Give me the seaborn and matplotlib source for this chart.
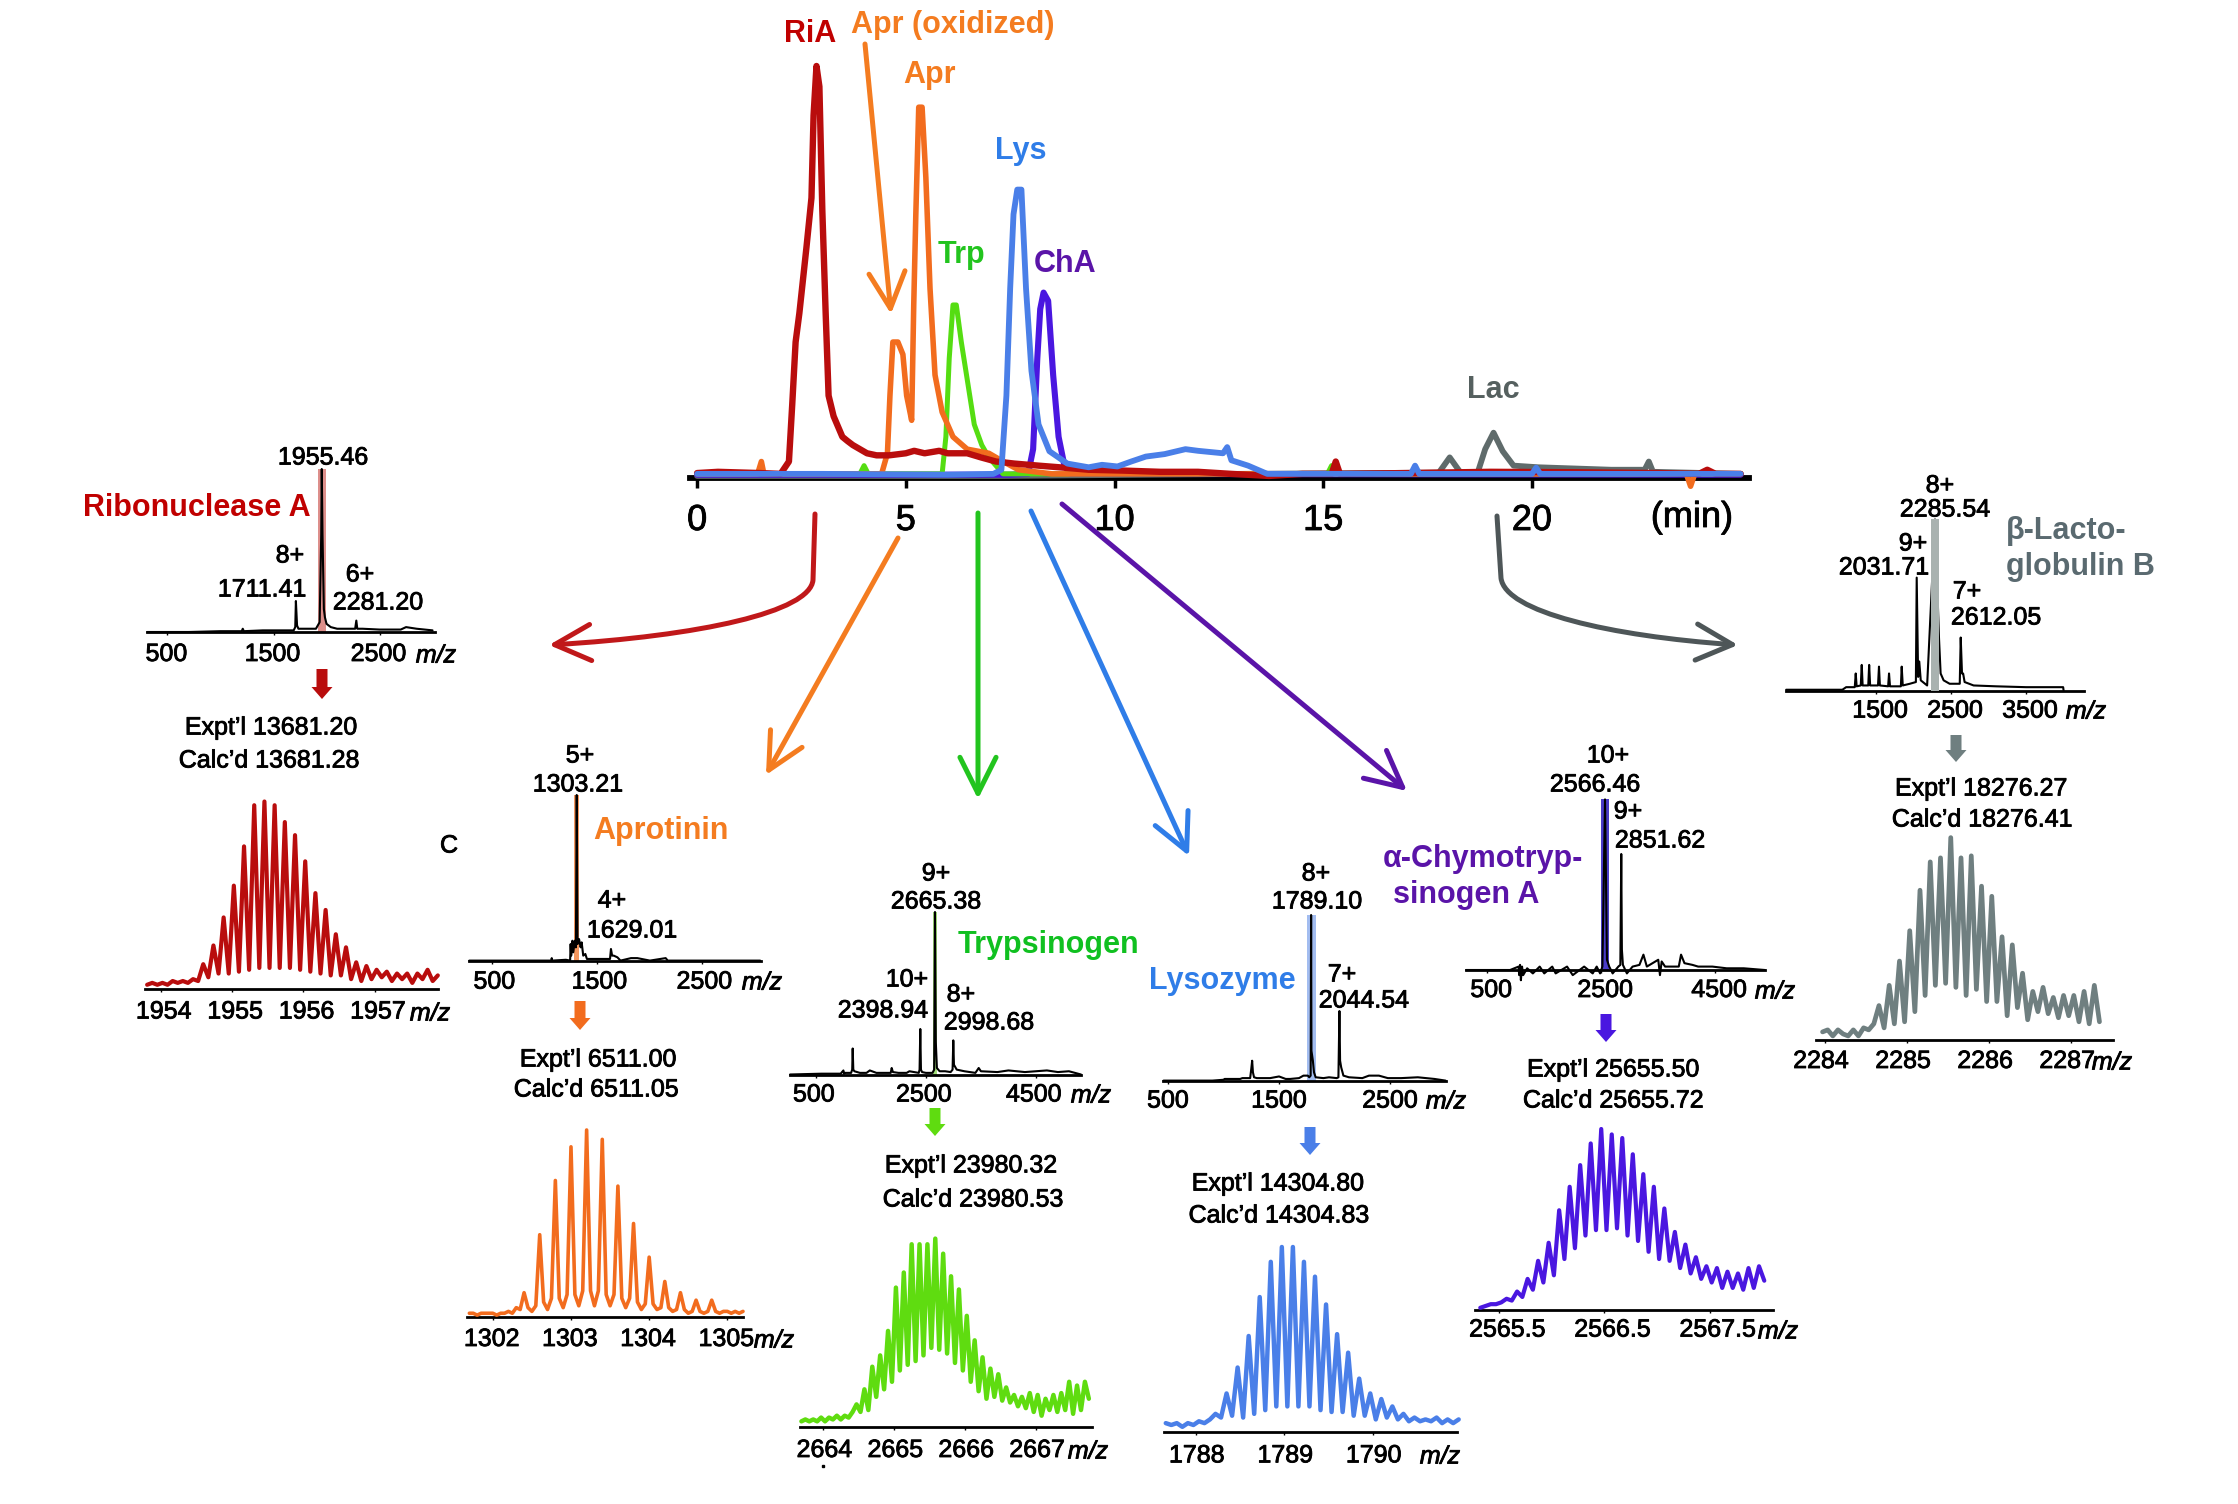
import numpy as np
import matplotlib
matplotlib.use('Agg')
import matplotlib.pyplot as plt
import matplotlib.patheffects as pe
import matplotlib.transforms as mtrans
from matplotlib.patches import FancyArrowPatch
from matplotlib.path import Path
import seaborn as sns

# chromatogram traces (time in min, relative intensity)
ria_t = [0, 0.5, 1.5, 2.0, 2.2, 2.28, 2.36, 2.45, 2.62, 2.74, 2.79, 2.86, 2.93, 3.0, 3.08, 3.15, 3.27, 3.48, 3.6, 3.73, 3.9, 4.07, 4.3, 4.6, 5.0, 5.2, 5.45, 5.8, 6.0, 6.47, 6.8, 7.16, 7.6, 8.18, 8.8, 9.38, 10.2, 11.1, 12.0, 12.8, 13.7, 14.5, 15.2, 15.3, 15.4, 17.0, 19.0, 21.0, 23.0, 24.0, 24.2, 24.4, 25.0]
ria_i = [1.2, 1.5, 1.2, 1, 4, 18, 33, 40, 56, 68, 88, 100, 95, 65, 40, 20, 15, 10, 9, 8, 7, 6, 5.5, 5.5, 6, 6.6, 6, 6.6, 6, 6, 5, 4, 3.5, 3, 2.5, 2, 1.8, 1.5, 1.5, 1, 0.5, 1, 1, 4, 1, 1.2, 1.5, 1.4, 1.2, 1, 2, 1, 1]
apr_t = [0, 1.45, 1.54, 1.6, 4.2, 4.42, 4.56, 4.62, 4.69, 4.81, 4.93, 5.02, 5.14, 5.19, 5.24, 5.31, 5.39, 5.48, 5.58, 5.7, 5.87, 6.13, 6.47, 6.99, 7.33, 7.7, 8.5, 10, 23.7, 23.8, 23.9, 25]
apr_i = [1, 1, 4, 1, 1, 1, 6, 20, 33, 33, 30, 20, 14, 42, 64, 90, 90, 73, 46, 25, 16, 10, 7, 6, 4, 2, 1, 1, 1, -2, 1, 1]
trp_t = [0, 3.9, 4.0, 4.1, 5.7, 5.87, 5.96, 6.04, 6.13, 6.21, 6.33, 6.47, 6.64, 6.82, 6.99, 7.33, 8.0, 15.1, 15.2, 15.3, 25]
trp_i = [1, 1, 3, 1, 1, 1, 10, 29, 42, 42, 33, 24, 13, 8, 5, 1, 1, 1, 3, 1, 1]
lys_t = [0, 3.0, 6.0, 7.1, 7.29, 7.41, 7.5, 7.58, 7.67, 7.77, 7.88, 8.01, 8.18, 8.44, 8.87, 9.38, 9.7, 10.07, 10.4, 10.75, 11.2, 11.7, 12.0, 12.3, 12.6, 12.7, 12.8, 13.2, 13.66, 14.5, 17.1, 17.2, 17.3, 20.0, 20.1, 20.2, 25]
lys_i = [1, 1, 0.8, 1, 2, 20, 46, 64, 70, 70, 46, 26, 13, 6.5, 3.5, 2.6, 3.2, 2.8, 4, 5.2, 5.8, 7, 6.6, 6.3, 6, 7.5, 4.3, 3, 1, 1, 1, 3, 1, 1, 2.5, 1, 1]
cha_t = [0, 7.5, 7.93, 8.05, 8.15, 8.22, 8.3, 8.41, 8.53, 8.66, 8.8, 8.95, 25]
cha_i = [0.8, 0.8, 1, 7, 29, 41, 45, 43, 25, 10, 3, 1, 0.8]
lac_t = [0, 7.3, 13, 17.77, 18.03, 18.29, 18.7, 18.88, 19.08, 19.3, 19.56, 20.15, 21.9, 22.7, 22.8, 22.9, 25]
lac_i = [0.5, 0.5, 1, 1.3, 5, 1.3, 1.3, 7, 11, 6.5, 3, 2.6, 2, 2, 4, 1.5, 1]
time_ticks = [0, 5, 10, 15, 20]

# survey spectra (m/z, relative intensity)
ria_ms_x = [310, 700, 1000, 1200, 1210, 1220, 1400, 1690, 1705, 1711, 1722, 1735, 1800, 1900, 1935, 1950, 1955, 1962, 1975, 1985, 2000, 2040, 2100, 2200, 2270, 2281, 2290, 2340, 2500, 2700, 2750, 2850, 3000]
ria_ms_y = [0, 0, 0.5, 0.5, 2, 0.5, 1, 1, 3, 19, 4, 2, 2, 2, 6, 60, 100, 60, 14, 9, 5, 3, 2, 2, 2, 7, 2, 2, 1.5, 1.5, 3, 2, 1]
apr_ms_x = [280, 900, 1060, 1065, 1070, 1200, 1240, 1245, 1250, 1262, 1270, 1285, 1295, 1303, 1311, 1325, 1340, 1350, 1365, 1385, 1400, 1620, 1629, 1640, 1655, 1690, 1720, 1820, 1850, 1880, 2000, 2150, 2170, 2400, 3050]
apr_ms_y = [0, 0, 0, 1.5, 0, 0.5, 0, 10, 3, 12, 5, 12, 8, 100, 10, 13, 8, 11, 3, 4, 1, 1, 7, 3, 3, 2, 0, 1.5, 1.5, 1.5, 0, 1.5, 0, 0, 0]
trp_ms_x = [30, 600, 950, 1000, 1010, 1020, 1140, 1160, 1169, 1180, 1200, 1300, 1420, 1480, 1600, 1700, 1860, 1878, 1900, 2000, 2150, 2200, 2370, 2385, 2398, 2410, 2430, 2500, 2620, 2650, 2665, 2680, 2700, 2750, 2850, 2950, 2985, 2998, 3010, 3060, 3200, 3400, 3460, 3500, 3800, 4000, 4300, 4700, 4900, 5100, 5210, 5320]
trp_ms_y = [0, 0.5, 0.5, 2.5, 0.5, 1, 1, 3, 16, 3, 2, 1, 1, 2.5, 1, 1, 1, 4, 1.5, 1, 1, 2, 1, 3, 28, 3, 1.5, 1, 1, 3, 100, 20, 4, 2, 2, 1.5, 3, 21, 6, 3, 2, 1, 4, 2, 1.5, 2.5, 1.5, 2.5, 1.5, 2, 1, 0]
lys_ms_x = [460, 900, 1000, 1010, 1150, 1170, 1240, 1250, 1258, 1265, 1275, 1300, 1420, 1500, 1560, 1600, 1680, 1720, 1760, 1772, 1785, 1789, 1792, 1805, 1815, 1830, 1900, 1950, 2020, 2035, 2044, 2050, 2060, 2080, 2130, 2250, 2310, 2400, 2480, 2600, 2750, 2900, 3000]
lys_ms_y = [0, 0, 0.5, 1, 1, 1.5, 1.5, 7, 12, 5, 2, 1.5, 1.5, 2.5, 1, 1, 1.5, 3, 3, 2, 3, 100, 18, 12, 5, 2, 1.5, 2, 1.5, 2, 42, 12, 8, 3, 2, 1.5, 3, 3, 1.5, 1.5, 2, 1, 0]
cha_ms_x = [130, 500, 900, 1050, 1060, 1075, 1090, 1110, 1130, 1200, 1300, 1420, 1500, 1640, 1700, 1900, 2000, 2200, 2350, 2420, 2480, 2520, 2566, 2600, 2640, 2700, 2800, 2835, 2851, 2862, 2880, 2950, 3050, 3170, 3240, 3300, 3500, 3530, 3560, 3620, 3860, 3900, 3960, 4100, 4200, 4450, 4700, 5000, 5370]
cha_ms_y = [0, 0, 0, 2, -3, 3, -6, 2, -3, 1, -2, 2, -2, 2, -2, 2, -3, 2, -2, 2, -2, 2, 100, 6, 2, -2, 2, 3, 68, 12, 3, -2, 2, 3, 9, 2, 6, -3, 5, 2, 2, 9, 4, 3, 2, 2, 1, 1, 0]
lac_ms_x = [300, 700, 1050, 1100, 1215, 1228, 1240, 1295, 1308, 1320, 1395, 1407, 1420, 1525, 1538, 1550, 1660, 1672, 1685, 1830, 1841, 1855, 1950, 2030, 2041, 2060, 2075, 2095, 2180, 2285, 2338, 2360, 2400, 2480, 2615, 2628, 2645, 2660, 2680, 2800, 3100, 3500, 3994, 4000]
lac_ms_y = [0.5, 0.5, 0.5, 2, 2, 10, 2.5, 3, 15, 3, 3, 15, 3, 3, 14, 3, 2.5, 10, 2.5, 2.5, 14, 3, 4, 5, 66, 8, 17, 6, 3, 100, 31, 10, 6, 4, 4, 31, 10, 10, 5, 3, 2.5, 2, 2, 0]

# isotope envelopes (intensities at even m/z steps)
ria_iso = [2, 3, 2, 3, 2, 4, 3, 4, 3, 5, 4, 13, 6, 23, 8, 38, 8, 55, 9, 76, 10, 98, 11, 100, 11, 98, 11, 89, 11, 82, 10, 68, 9, 51, 8, 42, 7, 29, 7, 22, 5, 14, 4, 12, 5, 10, 6, 9, 4, 8, 5, 8, 3, 8, 5, 10, 4, 7]
apr_iso = [2, 2, 1, 2, 2, 2, 2, 1, 2, 2, 3, 2, 5, 4, 13, 5, 3, 6, 44, 8, 4, 10, 73, 10, 5, 12, 91, 12, 6, 14, 100, 14, 6, 14, 95, 12, 6, 12, 70, 10, 5, 10, 50, 8, 4, 7, 32, 7, 4, 5, 19, 5, 3, 4, 13, 4, 2, 3, 9, 3, 2, 3, 9, 3, 2, 3, 3, 2, 3, 2, 3]
trp_iso = [3, 4, 3, 4, 3, 5, 3, 5, 4, 6, 4, 6, 5, 8, 12, 8, 20, 9, 32, 16, 38, 20, 51, 24, 74, 30, 82, 33, 97, 35, 97, 38, 97, 42, 100, 41, 92, 39, 80, 34, 73, 30, 59, 24, 46, 19, 37, 15, 31, 16, 28, 14, 21, 13, 17, 11, 16, 10, 18, 8, 17, 6, 15, 9, 17, 8, 18, 9, 24, 7, 22, 9, 24, 15]
lys_iso = [5, 4, 5, 3, 5, 4, 6, 5, 7, 10, 8, 21, 9, 35, 8, 52, 10, 73, 12, 92, 14, 100, 14, 100, 14, 92, 14, 84, 12, 69, 11, 53, 11, 43, 9, 29, 9, 21, 7, 18, 8, 14, 7, 10, 6, 8, 6, 7, 6, 8, 5, 7, 5, 7]
cha_iso = [1, 2, 3, 3, 4, 6, 5, 10, 7, 17, 11, 27, 15, 37, 19, 55, 28, 68, 34, 80, 41, 92, 44, 100, 44, 97, 45, 95, 41, 86, 38, 75, 32, 68, 28, 56, 27, 43, 23, 36, 20, 29, 17, 24, 15, 23, 12, 21, 12, 20, 11, 23, 12, 24, 16]
lac_iso = [4, 5, 2, 5, 3, 2, 5, 2, 6, 5, 8, 17, 6, 27, 8, 39, 9, 54, 14, 74, 22, 88, 27, 90, 28, 100, 26, 90, 22, 91, 25, 76, 19, 71, 19, 51, 12, 47, 16, 33, 10, 24, 14, 26, 13, 21, 11, 22, 12, 22, 9, 24, 8, 27, 9]

# colours
red, orange, green, blue, purple, grey = '#b90d0d', '#f26c1e', '#5fdc10', '#4a7fe8', '#4a17e0', '#6f7f80'

W, H = 2238, 1504
sns.set_theme(style='white')
plt.rcParams['font.family'] = ['Liberation Sans', 'DejaVu Sans']
FS = 18
fig = plt.figure(figsize=(W / 100, H / 100), dpi=100, facecolor='white')
heavy = [pe.withStroke(linewidth=0.6, foreground='black')]


def panel(left, right, base, top, xlim, ticks, label_dx=0, label_off=21, spine_w=2):
    # axes placed by its pixel box, the x limits come from the reference scale
    ax = fig.add_axes([left / W, 1 - base / H, (right - left) / W, (base - top) / H])
    ax.patch.set_alpha(0)
    ax.set_xlim(xlim)
    ax.set_ylim(0, 100)
    ax.set_yticks([])
    ax.set_xticks(ticks)
    ax.set_xticklabels([str(t) for t in ticks], fontsize=FS, color='black')
    ax.tick_params(axis='x', length=2, width=1, color='black', pad=(label_off - 12) * 0.72 - 2, bottom=True)
    sns.despine(ax=ax, left=True)
    ax.spines['bottom'].set_linewidth(spine_w)
    ax.spines['bottom'].set_color('black')
    shift = mtrans.ScaledTranslation(label_dx / 100, 0, fig.dpi_scale_trans)
    for lab in ax.get_xticklabels():
        lab.set_transform(lab.get_transform() + shift)
        lab.set_path_effects(heavy)
    ax.set_xlabel('')
    ax.set_ylabel('')
    return ax


def draw_line(ax, x, y, color, lw):
    sns.lineplot(x=x, y=y, ax=ax, color=color, linewidth=lw, estimator=None, sort=False,
                 errorbar=None, legend=False, zorder=3, clip_on=False)


def survey(box, x, y, peak, half, bar_color, bar_z=1, **kw):
    ax = panel(*box, **kw)
    ax.axvspan(peak - half, peak + half, color=bar_color, lw=0, zorder=bar_z)
    draw_line(ax, x, y, 'black', 1.5)
    return ax


def envelope(box, start, step, y, color, lw=3.0, **kw):
    ax = panel(*box, **kw)
    x = start + step * np.arange(len(y))
    draw_line(ax, x, y, color, lw)
    return ax


# chromatogram
chrom = panel(690, 1749, 478, 66, (-0.17, 25.2), time_ticks, spine_w=4.2)
chrom.tick_params(axis='x', length=7, width=2.5, pad=11, labelsize=26)
for t, y, c, lw in [(lac_t, lac_i, '#5f6b6b', 4.2), (cha_t, cha_i, '#4a17e0', 4.4), (trp_t, trp_i, '#55dd12', 3.6),
                    (apr_t, apr_i, '#f26c1e', 4.0), (ria_t, ria_i, '#b90d0d', 4.6), (lys_t, lys_i, '#4a7fe8', 4.2)]:
    draw_line(chrom, t, y, c, lw)

# survey spectra
survey((146.7, 435, 632, 469, (304, 3023), [500, 1500, 2500]), ria_ms_x, ria_ms_y, 1955, 40, '#dd8f8b', label_dx=-1, label_off=22)
survey((469, 761, 960.6, 795, (277, 3058), [500, 1500, 2500]), apr_ms_x, apr_ms_y, 1303, 26, '#f4975f', label_dx=2)
survey((790, 1081, 1074.5, 912, (29, 5320), [500, 2500, 4500]), trp_ms_x, trp_ms_y, 2665, 45, '#a4e07a', label_dx=-2, label_off=20)
survey((1163, 1446, 1080.6, 915, (455, 3004), [500, 1500, 2500]), lys_ms_x, lys_ms_y, 1789, 40, '#a3bdf0', label_off=20)
survey((1466, 1765, 970, 799.4, (127, 5373), [500, 2500, 4500]), cha_ms_x, cha_ms_y, 2566, 70, '#4a3cc8', label_dx=4, label_off=20)
survey((1786, 2084, 690.6, 519.4, (298, 4272), [1500, 2500, 3500]), lac_ms_x, lac_ms_y, 2285, 50, '#a9b2b0', bar_z=4, label_dx=4, label_off=20)

# isotope envelopes
envelope((145, 437.7, 988.5, 801.5, (1953.78, 1957.88), [1954, 1955, 1956, 1957]), 1953.81, 1 / 14, ria_iso, red, label_dx=3, label_off=23)
envelope((467, 743, 1317, 1130, (1301.67, 1305.2), [1302, 1303, 1304, 1305]), 1301.7, 0.05, apr_iso, orange, lw=2.6, label_dx=-1, label_off=22)
envelope((800, 1092, 1427, 1238.6, (2663.67, 2667.79), [2664, 2665, 2666, 2667]), 2663.69, 1 / 18, trp_iso, green, lw=3.2, label_dx=1, label_off=23)
envelope((1164, 1456.7, 1432.4, 1247, (1787.64, 1790.95), [1788, 1789, 1790]), 1787.66, 1 / 16, lys_iso, blue, lw=3.2, label_dx=1, label_off=23)
envelope((1475, 1772.7, 1309.6, 1129, (2565.27, 2568.1), [2565.5, 2566.5, 2567.5]), 2565.32, 0.05, cha_iso, purple, label_dx=8, label_off=20)
envelope((1816, 2113, 1040, 837.6, (2283.89, 2287.51), [2284, 2285, 2286, 2287]), 2283.97, 1 / 16, lac_iso, grey, lw=3.4, label_dx=-4, label_off=21)

# overlay in image pixels for labels and arrows
ov = fig.add_axes([0, 0, 1, 1], zorder=10)
ov.set_xlim(0, W)
ov.set_ylim(H, 0)
ov.axis('off')


def note(x, y, s, color='black', size=FS, weight='normal', style='normal', ha='center'):
    t = ov.text(x, y + 1.5, s, color=color, fontsize=size, fontweight=weight, fontstyle=style, ha=ha, va='center')
    if color == 'black':
        t.set_path_effects(heavy)


def big_arrow(x, y0, y1, color):
    ov.arrow(x, y0, 0, y1 - y0, width=11, head_width=21, head_length=12, length_includes_head=True,
             color=color, lw=0)


def line_arrow(a, b, color):
    ov.add_patch(FancyArrowPatch(a, b, arrowstyle='->,head_length=1,head_width=0.5', mutation_scale=26,
                                 lw=3.6, color=color, shrinkA=0, shrinkB=0))


def curve_arrow(verts, color):
    codes = [Path.MOVETO, Path.LINETO, Path.CURVE4, Path.CURVE4, Path.CURVE4]
    ov.add_patch(FancyArrowPatch(path=Path(verts, codes), arrowstyle='->,head_length=1,head_width=0.5',
                                 mutation_scale=26, lw=3.6, color=color, fill=False))


# chromatogram labels
note(810, 32, 'RiA', '#c00000', 22, 'bold')
note(953, 23, 'Apr (oxidized)', '#f47c20', 22, 'bold')
note(929, 73, 'Apr', '#f47c20', 22, 'bold')
note(961, 253, 'Trp', '#22c41e', 22, 'bold')
note(1021, 149, 'Lys', '#2f7de8', 22, 'bold')
note(1065, 263, 'ChA', '#5a14a8', 22, 'bold')
note(1493, 389, 'Lac', '#55605f', 22, 'bold')
note(1692, 516, '(min)', size=26)

# arrows from the chromatogram
line_arrow((865, 44), (891, 314), '#f47c20')
curve_arrow([(815, 514), (813, 580), (810, 612), (700, 636), (549, 645)], '#c0181a')
line_arrow((898, 538), (766, 775), '#f47c20')
line_arrow((978, 513), (978, 799), '#22c41e')
line_arrow((1031, 511), (1189, 856), '#2f7de8')
line_arrow((1062, 504), (1407, 791), '#5a14a8')
curve_arrow([(1497, 516), (1501, 578), (1505, 612), (1610, 636), (1738, 645)], '#4e5658')

# ribonuclease A
note(197, 507, 'Ribonuclease A', '#c00000', 22, 'bold')
note(323, 456, '1955.46')
note(290, 554, '8+')
note(262, 588, '1711.41')
note(360, 573, '6+')
note(378, 601, '2281.20')
note(436, 654, 'm/z', style='italic')
big_arrow(322, 669, 699, red)
note(271, 726, 'Expt\u2019l 13681.20')
note(269, 759, 'Calc\u2019d 13681.28')
note(430, 1012, 'm/z', style='italic')
note(449, 844, 'C')

# aprotinin
note(661, 830, 'Aprotinin', '#f47c20', 22, 'bold')
note(580, 754, '5+')
note(578, 783, '1303.21')
note(612, 899, '4+')
note(632, 929, '1629.01')
note(762, 981, 'm/z', style='italic')
big_arrow(580, 1001, 1030, orange)
note(598, 1058, 'Expt\u2019l 6511.00')
note(596, 1088, 'Calc\u2019d 6511.05')
note(774, 1339, 'm/z', style='italic')

# trypsinogen
note(1048, 944, 'Trypsinogen', '#10c020', 22, 'bold')
note(936, 872, '9+')
note(936, 900, '2665.38')
note(907, 978, '10+')
note(883, 1009, '2398.94')
note(961, 993, '8+')
note(989, 1021, '2998.68')
note(1091, 1094, 'm/z', style='italic')
big_arrow(935, 1108, 1136, green)
note(971, 1164, 'Expt\u2019l 23980.32')
note(973, 1198, 'Calc\u2019d 23980.53')
note(1088, 1450, 'm/z', style='italic')
ov.plot([823], [1466], marker='s', ms=1.5, color='black')

# lysozyme
note(1222, 980, 'Lysozyme', '#2f7de8', 22, 'bold')
note(1316, 872, '8+')
note(1317, 900, '1789.10')
note(1342, 973, '7+')
note(1364, 999, '2044.54')
note(1446, 1100, 'm/z', style='italic')
big_arrow(1310, 1127, 1155, blue)
note(1278, 1182, 'Expt\u2019l 14304.80')
note(1279, 1214, 'Calc\u2019d 14304.83')
note(1440, 1455, 'm/z', style='italic')

# chymotrypsinogen
note(1583, 857, '\u03b1-Chymotryp-', '#5a14a8', 22, 'bold', ha='right')
note(1539, 893, 'sinogen A', '#5a14a8', 22, 'bold', ha='right')
note(1608, 754, '10+')
note(1595, 783, '2566.46')
note(1628, 810, '9+')
note(1660, 839, '2851.62')
note(1775, 990, 'm/z', style='italic')
big_arrow(1606, 1014, 1042, purple)
note(1613, 1068, 'Expt\u2019l 25655.50')
note(1613, 1099, 'Calc\u2019d 25655.72')
note(1778, 1330, 'm/z', style='italic')

# lactoglobulin
note(2006, 530, '\u03b2-Lacto-', '#5a6a70', 22, 'bold', ha='left')
note(2006, 565, 'globulin B', '#5a6a70', 22, 'bold', ha='left')
note(1940, 484, '8+')
note(1945, 508, '2285.54')
note(1913, 542, '9+')
note(1884, 566, '2031.71')
note(1967, 590, '7+')
note(1996, 616, '2612.05')
note(2086, 710, 'm/z', style='italic')
big_arrow(1956, 735, 762, grey)
note(1981, 787, 'Expt\u2019l 18276.27')
note(1982, 818, 'Calc\u2019d 18276.41')
note(2112, 1061, 'm/z', style='italic')

fig.savefig('out.png', dpi=100, facecolor='white')
